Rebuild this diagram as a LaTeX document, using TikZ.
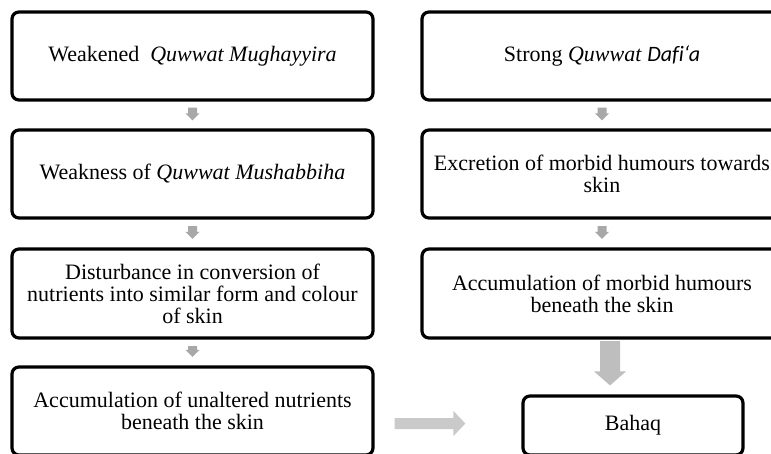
\documentclass[tikz,border=0pt]{standalone}
\usepackage{fontspec}
\setmainfont{Liberation Serif}
\newfontfamily\carlito[Ligatures=NoCommon]{Carlito}
\usetikzlibrary{calc}
\definecolor{smallgray}{RGB}{168,168,168}
\definecolor{biggray}{RGB}{190,190,190}
\definecolor{lightgray2}{RGB}{202,202,202}
% vertical block arrow: from, to, gap top, gap bottom, shaft half, head half, head length, style
\newcommand\vblockarrow[8]{\fill[#8] let \p1=(#1), \p2=(#2) in
 (\x1-#5,\y1-#3) -- (\x1+#5,\y1-#3) -- (\x1+#5,\y2+#4+#7) -- (\x1+#6,\y2+#4+#7)
 -- (\x1,\y2+#4) -- (\x1-#6,\y2+#4+#7) -- (\x1-#5,\y2+#4+#7) -- cycle;}
% horizontal block arrow: from, to, gap start, gap end, shaft half, head half, head length, y offset, style
\newcommand\hblockarrow[9]{\fill[#9] let \p1=(#1), \p2=(#2) in
 (\x1+#3,\y2+#8-#5) -- (\x2-#4-#7,\y2+#8-#5) -- (\x2-#4-#7,\y2+#8-#6) -- (\x2-#4,\y2+#8)
 -- (\x2-#4-#7,\y2+#8+#6) -- (\x2-#4-#7,\y2+#8+#5) -- (\x1+#3,\y2+#8+#5) -- cycle;}
\begin{document}
\begin{tikzpicture}[x=1pt,y=-1pt,
  box/.style={draw=black, line width=3.2pt, rounded corners=7pt,
    minimum width=361pt, minimum height=88pt, align=center, inner sep=0pt,
    font=\fontsize{22}{22}\selectfont}]
\useasboundingbox (0,0) rectangle (771,454);
\fill[white] (0,0) rectangle (771,454);
% left column
\node[box] (l1) at (192.5,56) {Weakened~ \textit{Quwwat Mughayyira}};
\node[box] (l2) at (192.5,174) {Weakness of \textit{Quwwat Mushabbiha}};
\node[box, minimum height=89pt] (l3) at (192.5,293.5) {Disturbance in conversion of\\nutrients into similar form and colour\\of skin};
\node[box] (l4) at (192.5,411) {Accumulation of unaltered nutrients\\beneath the skin};
% right column
\node[box, minimum width=360pt] (r1) at (602,56) {Strong \textit{Quwwat} {\carlito\itshape Dafi‘a}};
\node[box, minimum width=360pt] (r2) at (602,174) {Excretion of morbid humours towards\\skin};
\node[box, minimum width=360pt, minimum height=89pt] (r3) at (602,293.5) {Accumulation of morbid humours\\beneath the skin};
\node[box, minimum width=220pt, minimum height=59pt] (bahaq) at (633,425.5) {Bahaq};
% arrows
\vblockarrow{l1.south}{l2.north}{6pt}{8pt}{4.5pt}{7pt}{7pt}{smallgray}
\vblockarrow{l2.south}{l3.north}{6.5pt}{8.5pt}{4.5pt}{7pt}{7pt}{smallgray}
\vblockarrow{l3.south}{l4.north}{6.5pt}{8.5pt}{4.5pt}{7pt}{7pt}{smallgray}
\vblockarrow{r1.south}{r2.north}{6pt}{8pt}{4.5pt}{7pt}{7pt}{smallgray}
\vblockarrow{r2.south}{r3.north}{6.5pt}{8.5pt}{4.5pt}{7pt}{7pt}{smallgray}
\vblockarrow{[xshift=8pt]r3.south}{bahaq.north}{1.5pt}{9pt}{10pt}{16pt}{14pt}{biggray}
\hblockarrow{l4.east}{bahaq.west}{20pt}{56pt}{5.5pt}{12.5pt}{12pt}{2pt}{lightgray2}
\end{tikzpicture}
\end{document}
